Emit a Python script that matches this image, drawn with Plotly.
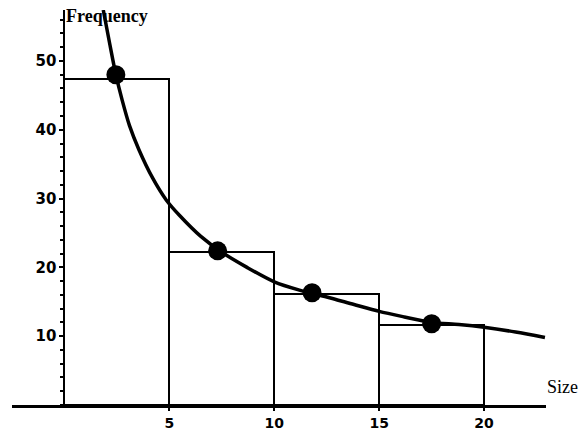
import plotly.graph_objects as go

# Histogram bins
bin_centers = [2.5, 7.5, 12.5, 17.5]
bin_heights = [47.4, 22.2, 16.2, 11.6]
bin_width = 5

# Highlighted points
pt_x = [2.45, 7.3, 11.8, 17.5]
pt_y = [48.0, 22.4, 16.3, 11.8]

# Fitted curve
curve_x = [1.85, 2.15, 2.45, 2.75, 3.1, 3.55, 4.2, 4.85, 5.5, 6.5, 7.5, 8.7, 10.0, 11.2, 12.5, 13.8, 15.0, 16.2, 17.5, 18.8, 20.0, 21.5, 22.9]
curve_y = [57.4, 52.6, 48.0, 44.3, 40.6, 37.1, 33.0, 29.8, 27.5, 24.5, 22.2, 20.0, 17.9, 16.7, 15.7, 14.6, 13.6, 12.8, 12.0, 11.7, 11.3, 10.6, 9.8]

x_ticks = [5, 10, 15, 20]
y_ticks = [10, 20, 30, 40, 50]

fig = go.Figure()
fig.add_trace(go.Bar(
    x=bin_centers, y=bin_heights, width=[bin_width] * 4,
    marker=dict(color="white", line=dict(color="black", width=2)),
    hoverinfo="skip", showlegend=False,
))
fig.add_trace(go.Scatter(
    x=curve_x, y=curve_y, mode="lines",
    line=dict(color="black", width=3.5, shape="spline", smoothing=0.8), showlegend=False,
))
fig.add_trace(go.Scatter(
    x=pt_x, y=pt_y, mode="markers",
    marker=dict(color="black", size=19), showlegend=False,
))

W, H = 579, 432
ml, mr, mt, mb = 12, 33, 10, 27
xr = [-2.5, 22.95]
yr = [0, 57.4]
ypos = (0 - xr[0]) / (xr[1] - xr[0])

fig.update_layout(
    width=W, height=H,
    margin=dict(l=ml, r=mr, t=mt, b=mb, pad=0, autoexpand=False),
    plot_bgcolor="white", paper_bgcolor="white",
    bargap=0,
    xaxis=dict(
        range=xr, showgrid=False, zeroline=False, automargin=False,
        showline=True, linecolor="black", linewidth=3,
        tickvals=x_ticks, ticktext=["<b>%d</b>" % v for v in x_ticks],
        ticks="outside", ticklen=3, tickcolor="black", tickwidth=2,
        ticklabelstandoff=0,
        tickfont=dict(family="DejaVu Sans", size=14, color="black"),
        anchor="y",
    ),
    yaxis=dict(
        range=yr, showgrid=False, zeroline=False, automargin=False,
        showline=True, linecolor="black", linewidth=2,
        anchor="free", position=ypos,
        tickvals=y_ticks, ticktext=["<b>%d</b>" % v for v in y_ticks],
        ticks="outside", ticklen=4, tickcolor="black", tickwidth=2,
        tickfont=dict(family="DejaVu Sans", size=15, color="black"),
        minor=dict(dtick=2, ticks="outside", ticklen=3, tickcolor="black", tickwidth=1.5),
    ),
    annotations=[
        dict(text="<b>Frequency</b>", x=0, y=yr[1], xref="x", yref="y",
             xanchor="left", yanchor="middle", xshift=0, yshift=-6, showarrow=False,
             font=dict(family="Liberation Serif", size=18, color="black")),
        dict(text="Size", x=1, y=0, xref="paper", yref="y",
             xanchor="left", yanchor="bottom", xshift=-1, yshift=6, showarrow=False,
             font=dict(family="Liberation Serif", size=18, color="black")),
    ],
)

fig.write_html("out.html")
